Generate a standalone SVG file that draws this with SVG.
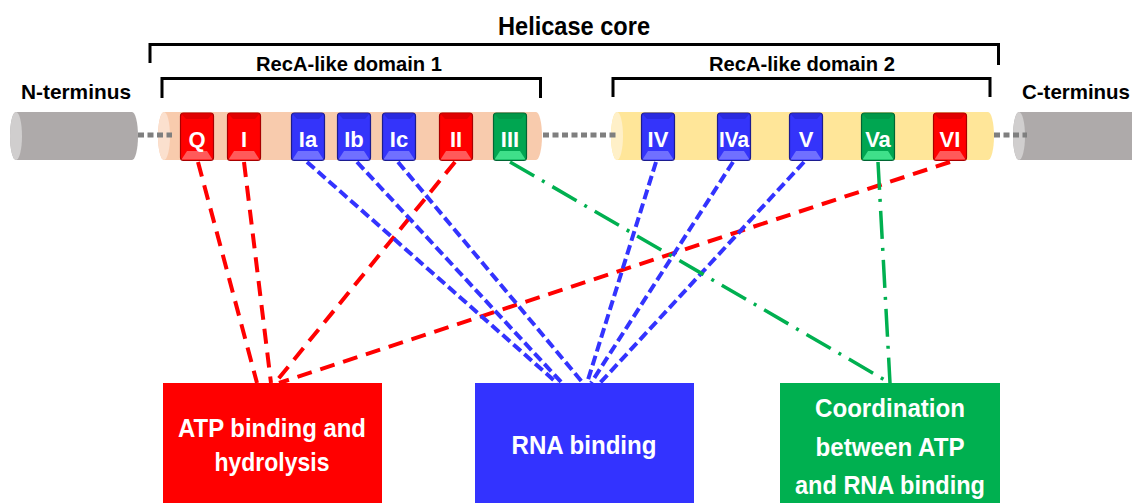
<svg xmlns="http://www.w3.org/2000/svg" width="1132" height="503" viewBox="0 0 1132 503">
<style>
.hd{font-family:"Liberation Sans",Arial,sans-serif;font-weight:bold;fill:#000;text-anchor:middle}
.br{fill:none;stroke:#000;stroke-width:3}
.dots{fill:none;stroke:#7F7F7F;stroke-width:5;stroke-dasharray:6 3.5}
.lbl{font-family:"Liberation Sans",Arial,sans-serif;font-weight:bold;fill:#fff;font-size:22px;text-anchor:middle}
.big{font-family:"Liberation Sans",Arial,sans-serif;font-weight:bold;fill:#fff;font-size:26px;text-anchor:middle}
.red .b{fill:#FF0000;stroke:#A80000;stroke-width:1.2}
.red .lo{fill:#FF5A5A}
.red .hi{fill:#E00000}
.blue .b{fill:#3434FA;stroke:#1C1C90;stroke-width:1.2}
.blue .lo{fill:#7070FF}
.blue .hi{fill:#2A2AE0}
.green .b{fill:#00A651;stroke:#006633;stroke-width:1.2}
.green .lo{fill:#3FE08A}
.green .hi{fill:#009848}
.cr{fill:none;stroke:#FF0000;stroke-width:4;stroke-dasharray:15 9}
.cb{fill:none;stroke:#3333FF;stroke-width:4;stroke-dasharray:10 4.5}
.cg{fill:none;stroke:#00B050;stroke-width:3.5;stroke-dasharray:28 9 3 9}
</style>

<!-- headings and brackets -->
<g id="helicase-core">
  <text class="hd" x="574" y="35" font-size="26" textLength="152" lengthAdjust="spacingAndGlyphs">Helicase core</text>
  <path class="br" d="M150,63 V44.5 H998.5 V65"/>
</g>
<g id="domain1-label">
  <text class="hd" x="349" y="71" font-size="21" textLength="186" lengthAdjust="spacingAndGlyphs">RecA-like domain 1</text>
  <path class="br" d="M162,98 V78.5 H540.5 V98"/>
</g>
<g id="domain2-label">
  <text class="hd" x="802" y="71" font-size="21" textLength="186" lengthAdjust="spacingAndGlyphs">RecA-like domain 2</text>
  <path class="br" d="M613,97 V78.5 H990 V97"/>
</g>
<text class="hd" x="76" y="99" font-size="21" textLength="110" lengthAdjust="spacingAndGlyphs">N-terminus</text>
<text class="hd" x="1076" y="99" font-size="21" textLength="108" lengthAdjust="spacingAndGlyphs">C-terminus</text>

<!-- cylinders -->
<g id="n-terminus">
  <path d="M16,112 H132 A6,24 0 0 1 132,160 H16 A6,24 0 0 1 16,112 Z" fill="#AEAAAA"/>
  <ellipse cx="16" cy="136" rx="6" ry="24" fill="#D0CECE"/>
</g>
<g id="domain1">
  <path d="M164,112 H536 A6,24 0 0 1 536,160 H164 A6,24 0 0 1 164,112 Z" fill="#F8CBAD"/>
  <ellipse cx="164" cy="136" rx="6" ry="24" fill="#FBE0CE"/>
</g>
<g id="domain2">
  <path d="M617,112 H988 A6,24 0 0 1 988,160 H617 A6,24 0 0 1 617,112 Z" fill="#FFE699"/>
  <ellipse cx="617" cy="136" rx="6" ry="24" fill="#FFF0C8"/>
</g>
<g id="c-terminus">
  <path d="M1019,112 H1140 V160 H1019 A6,24 0 0 1 1019,112 Z" fill="#AEAAAA"/>
  <ellipse cx="1019" cy="136" rx="6" ry="24" fill="#D0CECE"/>
</g>
<g id="linkers">
  <path class="dots" d="M138,135 H172"/>
  <path class="dots" d="M543,135 H618"/>
  <path class="dots" d="M994,135 H1027"/>
</g>

<!-- motif boxes -->
<g id="motif-Q" class="red" transform="translate(197,0)">
  <rect class="b" x="-16.5" y="113" width="33" height="47.5" rx="3"/>
  <polygon class="hi" points="-15.5,114 15.5,114 11,119 -11,119"/>
  <polygon class="lo" points="-15.5,159.5 15.5,159.5 10,151 -10,151"/>
  <text class="lbl" x="0" y="147">Q</text>
</g>
<g id="motif-I" class="red" transform="translate(244,0)">
  <rect class="b" x="-16.5" y="113" width="33" height="47.5" rx="3"/>
  <polygon class="hi" points="-15.5,114 15.5,114 11,119 -11,119"/>
  <polygon class="lo" points="-15.5,159.5 15.5,159.5 10,151 -10,151"/>
  <text class="lbl" x="0" y="147">I</text>
</g>
<g id="motif-Ia" class="blue" transform="translate(308,0)">
  <rect class="b" x="-16.5" y="113" width="33" height="47.5" rx="3"/>
  <polygon class="hi" points="-15.5,114 15.5,114 11,119 -11,119"/>
  <polygon class="lo" points="-15.5,159.5 15.5,159.5 10,151 -10,151"/>
  <text class="lbl" x="0" y="147">Ia</text>
</g>
<g id="motif-Ib" class="blue" transform="translate(354,0)">
  <rect class="b" x="-16.5" y="113" width="33" height="47.5" rx="3"/>
  <polygon class="hi" points="-15.5,114 15.5,114 11,119 -11,119"/>
  <polygon class="lo" points="-15.5,159.5 15.5,159.5 10,151 -10,151"/>
  <text class="lbl" x="0" y="147">Ib</text>
</g>
<g id="motif-Ic" class="blue" transform="translate(399,0)">
  <rect class="b" x="-16.5" y="113" width="33" height="47.5" rx="3"/>
  <polygon class="hi" points="-15.5,114 15.5,114 11,119 -11,119"/>
  <polygon class="lo" points="-15.5,159.5 15.5,159.5 10,151 -10,151"/>
  <text class="lbl" x="0" y="147">Ic</text>
</g>
<g id="motif-II" class="red" transform="translate(456,0)">
  <rect class="b" x="-16.5" y="113" width="33" height="47.5" rx="3"/>
  <polygon class="hi" points="-15.5,114 15.5,114 11,119 -11,119"/>
  <polygon class="lo" points="-15.5,159.5 15.5,159.5 10,151 -10,151"/>
  <text class="lbl" x="0" y="147">II</text>
</g>
<g id="motif-III" class="green" transform="translate(510,0)">
  <rect class="b" x="-16.5" y="113" width="33" height="47.5" rx="3"/>
  <polygon class="hi" points="-15.5,114 15.5,114 11,119 -11,119"/>
  <polygon class="lo" points="-15.5,159.5 15.5,159.5 10,151 -10,151"/>
  <text class="lbl" x="0" y="147">III</text>
</g>
<g id="motif-IV" class="blue" transform="translate(658,0)">
  <rect class="b" x="-16.5" y="113" width="33" height="47.5" rx="3"/>
  <polygon class="hi" points="-15.5,114 15.5,114 11,119 -11,119"/>
  <polygon class="lo" points="-15.5,159.5 15.5,159.5 10,151 -10,151"/>
  <text class="lbl" x="0" y="147">IV</text>
</g>
<g id="motif-IVa" class="blue" transform="translate(734,0)">
  <rect class="b" x="-16.5" y="113" width="33" height="47.5" rx="3"/>
  <polygon class="hi" points="-15.5,114 15.5,114 11,119 -11,119"/>
  <polygon class="lo" points="-15.5,159.5 15.5,159.5 10,151 -10,151"/>
  <text class="lbl" x="0" y="147" textLength="30" lengthAdjust="spacingAndGlyphs">IVa</text>
</g>
<g id="motif-V" class="blue" transform="translate(806,0)">
  <rect class="b" x="-16.5" y="113" width="33" height="47.5" rx="3"/>
  <polygon class="hi" points="-15.5,114 15.5,114 11,119 -11,119"/>
  <polygon class="lo" points="-15.5,159.5 15.5,159.5 10,151 -10,151"/>
  <text class="lbl" x="0" y="147">V</text>
</g>
<g id="motif-Va" class="green" transform="translate(878,0)">
  <rect class="b" x="-16.5" y="113" width="33" height="47.5" rx="3"/>
  <polygon class="hi" points="-15.5,114 15.5,114 11,119 -11,119"/>
  <polygon class="lo" points="-15.5,159.5 15.5,159.5 10,151 -10,151"/>
  <text class="lbl" x="0" y="147">Va</text>
</g>
<g id="motif-VI" class="red" transform="translate(950,0)">
  <rect class="b" x="-16.5" y="113" width="33" height="47.5" rx="3"/>
  <polygon class="hi" points="-15.5,114 15.5,114 11,119 -11,119"/>
  <polygon class="lo" points="-15.5,159.5 15.5,159.5 10,151 -10,151"/>
  <text class="lbl" x="0" y="147">VI</text>
</g>

<!-- connectors -->
<g id="connectors">
  <path class="cr" d="M198,162 L257,383"/>
  <path class="cr" d="M244,162 L271,383"/>
  <path class="cr" d="M455,162 L275,383"/>
  <path class="cr" d="M950,162 L279,383"/>
  <path class="cb" d="M307,162 L557,383"/>
  <path class="cb" d="M357,162 L562,383"/>
  <path class="cb" d="M398,162 L583,383"/>
  <path class="cb" d="M656,162 L587,383"/>
  <path class="cb" d="M733,162 L591,383"/>
  <path class="cb" d="M804,162 L600,383"/>
  <path class="cg" d="M510,162 L890,383"/>
  <path class="cg" d="M878,162 L890,383"/>
</g>

<!-- function boxes -->
<g id="atp-box">
  <rect x="163" y="383" width="219" height="130" fill="#FF0000"/>
  <text class="big" x="272" y="437" textLength="188" lengthAdjust="spacingAndGlyphs">ATP binding and</text>
  <text class="big" x="272" y="471" textLength="115" lengthAdjust="spacingAndGlyphs">hydrolysis</text>
</g>
<g id="rna-box">
  <rect x="475" y="383" width="219" height="130" fill="#3333FF"/>
  <text class="big" x="584" y="454" textLength="145" lengthAdjust="spacingAndGlyphs">RNA binding</text>
</g>
<g id="coord-box">
  <rect x="780" y="383" width="220" height="130" fill="#00B050"/>
  <text class="big" x="890" y="417" textLength="150" lengthAdjust="spacingAndGlyphs">Coordination</text>
  <text class="big" x="890" y="456" textLength="149" lengthAdjust="spacingAndGlyphs">between ATP</text>
  <text class="big" x="890" y="494" textLength="190" lengthAdjust="spacingAndGlyphs">and RNA binding</text>
</g>
</svg>
